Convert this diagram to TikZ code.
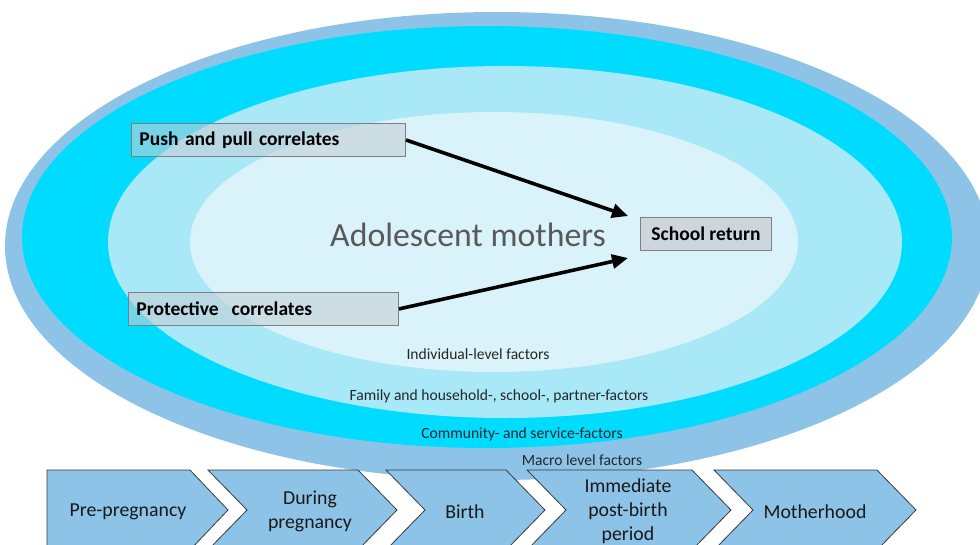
\documentclass[tikz,border=0pt]{standalone}
\usepackage{fontspec}
\setmainfont{Carlito}
\usetikzlibrary{arrows.meta}

\definecolor{macroband}{HTML}{8DC3E6}
\definecolor{communityband}{HTML}{00DCFF}
\definecolor{familyband}{HTML}{A9E8F7}
\definecolor{individualband}{HTML}{DAF3FB}
\definecolor{boxfill}{HTML}{C3CFD6}
\definecolor{boxline}{HTML}{7F7F7F}
\definecolor{titlegray}{HTML}{595959}
\definecolor{stageline}{HTML}{3A3A3A}

\tikzset{
  corrbox/.style={draw=boxline, line width=0.9pt, fill=boxfill, fill opacity=0.6,
    text opacity=1, minimum height=33pt, inner ysep=0pt, align=left,
    font=\fontsize{19.5}{22}\selectfont\bfseries},
  targetbox/.style={draw=boxline, line width=0.9pt, fill=boxfill!85!white,
    minimum width=131pt, minimum height=33pt, inner sep=0pt,
    font=\fontsize{19.5}{22}\selectfont\bfseries},
  flow/.style={line width=3.6pt, -{Triangle[length=16pt,width=14pt]}},
  levellabel/.style={font=\fontsize{15.6}{18}\selectfont, text=black!85},
  stage/.style={draw=stageline, line width=0.8pt, fill=macroband},
  stagelabel/.style={font=\fontsize{19.8}{24}\selectfont, align=center, text=black!90}
}

\begin{document}
\begin{tikzpicture}[x=1pt,y=-1pt]
  \useasboundingbox (0,0) rectangle (980,544);
  \clip (0,0) rectangle (980,544);

  % nested levels of influence
  \fill[macroband]      (497,246) ellipse [x radius=492, y radius=234];
  \fill[communityband]  (487,237) ellipse [x radius=465, y radius=211];
  \fill[familyband]     (505,242) ellipse [x radius=397, y radius=176];
  \fill[individualband] (494,242) ellipse [x radius=304, y radius=130];

  \node[font=\fontsize{33.8}{38}\selectfont, text=titlegray] (mothers) at (468,235) {Adolescent mothers};

  \node[levellabel] (lvl1) at (478,354) {Individual-level factors};
  \node[levellabel] (lvl2) at (499,396) {Family and household-, school-, partner-factors};
  \node[levellabel] (lvl3) at (522,434) {Community- and service-factors};
  \node[levellabel] (lvl4) at (582,460) {Macro level factors};

  % correlates and outcome
  \node[corrbox, text width=258pt, inner xsep=8pt, anchor=north west] (push) at (131,123) {Push and pull correlates};
  \node[corrbox, text width=254pt, inner xsep=8pt, anchor=north west] (prot) at (128,292) {Protective~ correlates};
  \node[targetbox, anchor=north west] (school) at (640,217) {School return};

  \coordinate (pushend) at (628,216);
  \coordinate (protend) at (628,258);
  \draw[flow] (push.east) -- (pushend);
  \draw[flow] (prot.east) -- (protend);

  % timeline of stages
  \draw[stage] (47,470) -- (190,470) -- (228,510) -- (190,550) -- (47,550) -- cycle;
  \draw[stage] (208,470) -- (358,470) -- (397,510) -- (358,550) -- (208,550) -- (247,510) -- cycle;
  \draw[stage] (386,470) -- (506,470) -- (545,510) -- (506,550) -- (386,550) -- (425,510) -- cycle;
  \draw[stage] (527,470) -- (692,470) -- (731,510) -- (692,550) -- (527,550) -- (566,510) -- cycle;
  \draw[stage] (714,470) -- (877,470) -- (916,510) -- (877,550) -- (714,550) -- (753,510) -- cycle;

  \node[stagelabel] (s1) at (128,512) {Pre-pregnancy};
  \node[stagelabel] (s2) at (310,511) {During\\pregnancy};
  \node[stagelabel] (s3) at (465,512) {Birth};
  \node[stagelabel] (s4) at (628,511) {Immediate\\post-birth\\period};
  \node[stagelabel] (s5) at (815,512) {Motherhood};
\end{tikzpicture}
\end{document}
